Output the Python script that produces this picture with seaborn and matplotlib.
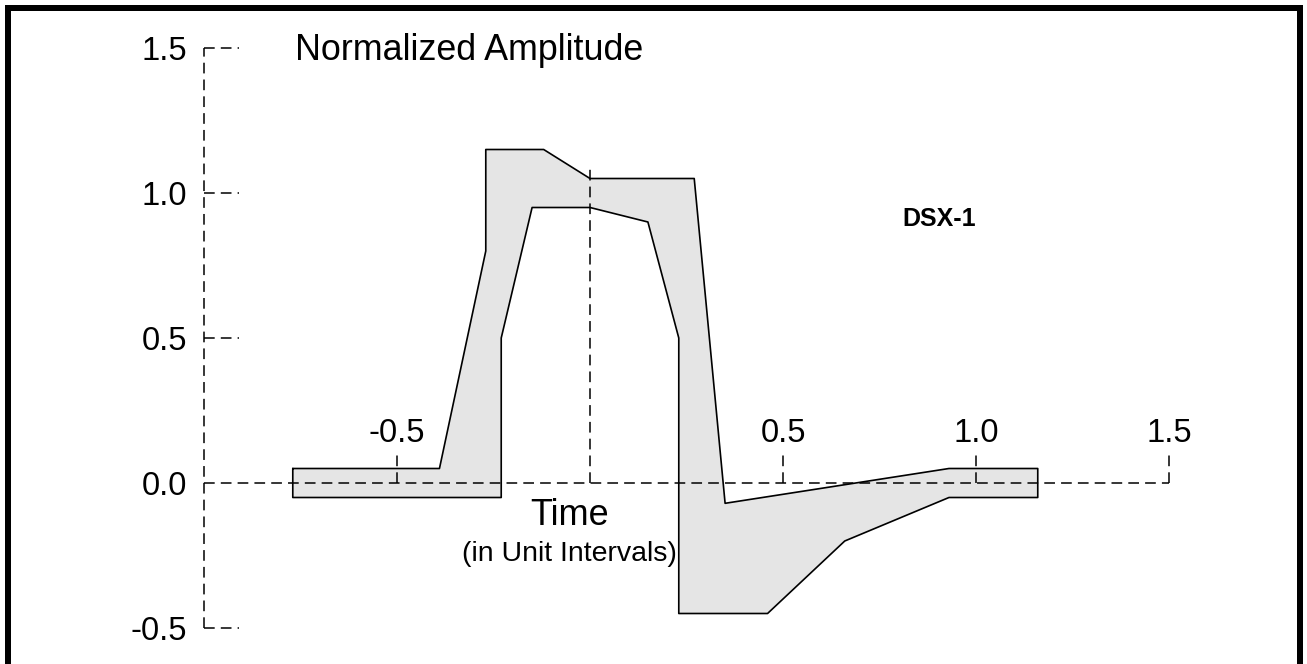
import numpy as np
import pandas as pd
import matplotlib
matplotlib.use("Agg")
import matplotlib.pyplot as plt
from matplotlib.patches import Rectangle
import seaborn as sns

# ---- data: DSX-1 isolated pulse template ----
upper_time = [-0.77, -0.39, -0.27, -0.27, -0.12, 0.00, 0.27, 0.35, 0.93, 1.16]
upper_amp = [0.05, 0.05, 0.80, 1.15, 1.15, 1.05, 1.05, -0.07, 0.05, 0.05]
lower_time = [-0.77, -0.23, -0.23, -0.15, 0.00, 0.15, 0.23, 0.23, 0.46, 0.66, 0.93, 1.16]
lower_amp = [-0.05, -0.05, 0.50, 0.95, 0.95, 0.90, 0.50, -0.45, -0.45, -0.20, -0.05, -0.05]

x_ticks = [-0.5, 0.5, 1.0, 1.5]
x_tick_labels = ["-0.5", "0.5", "1.0", "1.5"]
y_ticks = [-0.5, 0.0, 0.5, 1.0, 1.5]
y_tick_labels = ["-0.5", "0.0", "0.5", "1.0", "1.5"]

sns.set_style("white")
plt.rcParams['font.family'] = ['Liberation Sans', 'DejaVu Sans']
plt.rcParams['text.color'] = 'black'

W, H, DPI = 1307, 664, 100
fig = plt.figure(figsize=(W / DPI, H / DPI), dpi=DPI)
ax = fig.add_axes([0, 0, 1, 1])
x0px, xs = 590, 386.0
y0px, ys = 483, 290.0
ax.set_xlim((0 - x0px) / xs, (W - x0px) / xs)
ax.set_ylim((y0px - H) / ys, y0px / ys)
ax.axis("off")

# polygon (upper curve then lower curve reversed)
poly_x = upper_time + lower_time[::-1]
poly_y = upper_amp + lower_amp[::-1]
ax.fill(poly_x, poly_y, facecolor="#e5e5e5", edgecolor="none", zorder=1)
outline = pd.DataFrame({"t": poly_x + [poly_x[0]], "a": poly_y + [poly_y[0]]})
sns.lineplot(data=outline, x="t", y="a", sort=False, estimator=None,
             color="black", lw=1.2, ax=ax, zorder=3)

# dashed axes
dash = dict(color="black", lw=1.1, linestyle=(0, (7, 4)), zorder=2)
ax.plot([-1.0, -1.0], [-0.5, 1.5], **dash)
ax.plot([-1.0, 1.5], [0, 0], **dash)
ax.plot([0, 0], [0, 1.10], **dash)
for yt in y_ticks:
    if yt != 0:
        ax.plot([-1.0, -0.91], [yt, yt], **dash)
for xt in x_ticks:
    ax.plot([xt, xt], [0, 0.095], **dash)

# tick labels
for yt, lab in zip(y_ticks, y_tick_labels):
    ax.text(-1.044, yt - 0.04, lab, ha="right", va="baseline", fontsize=23.5, color="black")
for xt, lab in zip(x_ticks, x_tick_labels):
    ax.text(xt, 0.14, lab, ha="center", va="baseline", fontsize=23.5, color="black")

# titles / labels
ax.text(-0.764, 1.459, "Normalized Amplitude", ha="left", va="baseline", fontsize=25.8, color="black")
ax.text(-0.054, -0.145, "Time", ha="center", va="baseline", fontsize=26, color="black")
ax.text(-0.052, -0.269, "(in Unit Intervals)", ha="center", va="baseline", fontsize=20.5, color="black")
ax.text(0.904, 0.886, "DSX-1", ha="center", va="baseline", fontsize=18, fontweight="bold", color="black")

# thick frame (bottom edge cut off)
lw_px = 6
fig.patches.append(Rectangle((8 / W, -20 / H), (1300 - 8) / W, (H - 8 + 20) / H,
                             transform=fig.transFigure, fill=False,
                             edgecolor="black", lw=lw_px * 72 / DPI, zorder=10))

fig.savefig("out.png", dpi=DPI)
